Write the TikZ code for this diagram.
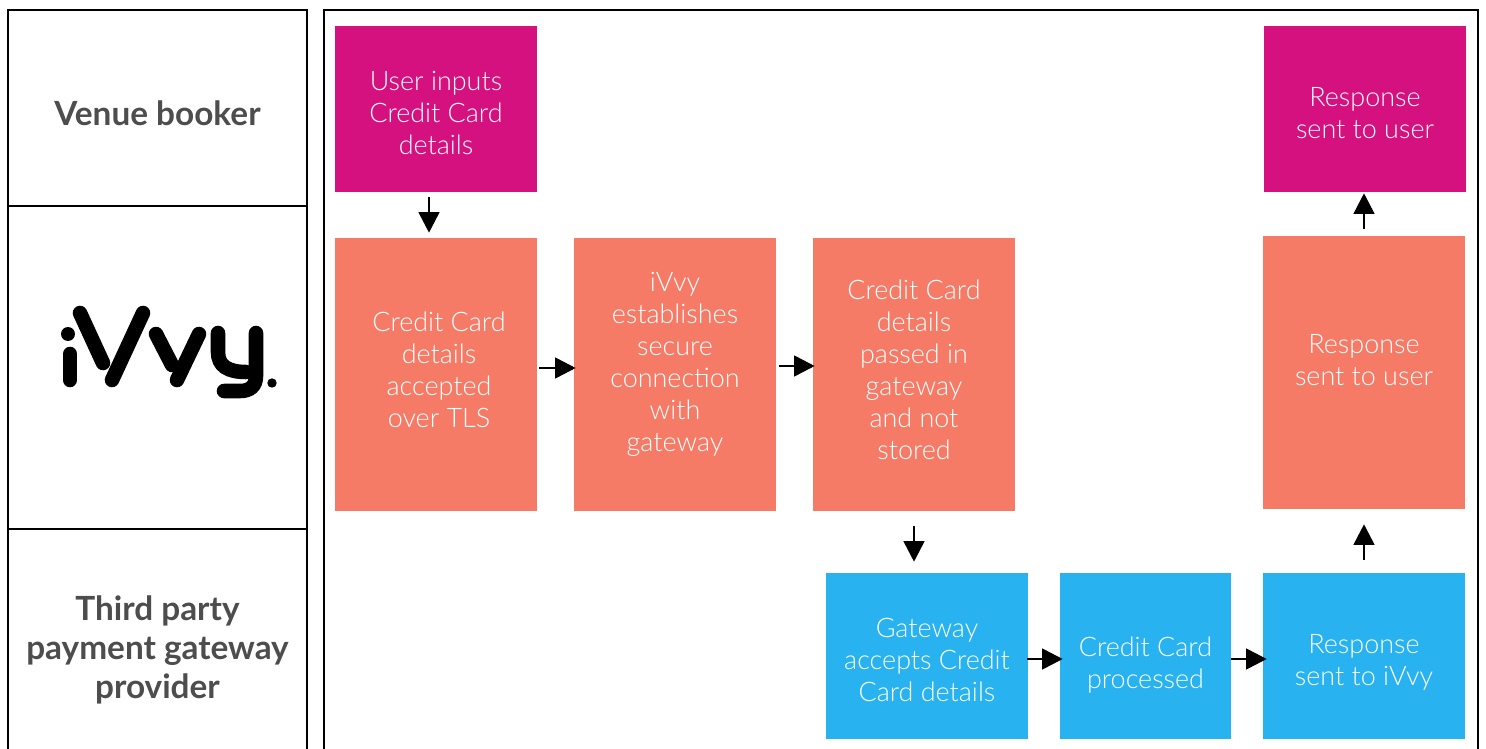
\documentclass[tikz,border=0pt]{standalone}
\usepackage{fontspec}
\setmainfont{Lato}[UprightFont={* Light},BoldFont={* Bold}]
\usetikzlibrary{arrows.meta}
\definecolor{bookercol}{HTML}{D5117F}
\definecolor{ivvycol}{HTML}{F57B67}
\definecolor{gatewaycol}{HTML}{28B2F0}
\definecolor{lanetext}{HTML}{4D4D4D}
\tikzset{
  lanebox/.style={draw=black,line width=2.1pt,minimum width=224.25pt,inner sep=0pt},
  lanetitle/.style={align=center,inner sep=0pt,text=lanetext,font=\fontsize{25}{29}\selectfont\bfseries},
  flowbox/.style={minimum width=151.5pt,inner sep=0pt},
  flowtext/.style={align=center,inner sep=0pt,text=white,font=\fontsize{20.2}{24}\selectfont},
  shortbox/.style={flowbox,minimum height=124.5pt},
  tallbox/.style={flowbox,minimum height=204.75pt},
  flowarrow/.style={line width=2pt,-{Triangle[length=15.5pt,width=15.5pt]}},
  logostroke/.style={line width=10.9pt,line cap=round}
}
\begin{document}
\begin{tikzpicture}[x=0.75pt,y=-0.75pt]
\clip (0,0) rectangle (1486,749);
\fill[white] (0,0) rectangle (1486,749);

% Lanes
\node[lanebox,minimum height=147pt,label={[lanetitle,shift={(0,5)}]center:Venue booker}] (booker) at (157.5,108) {};
\node[lanebox,minimum height=242.25pt] (ivvy) at (157.5,367.5) {};
\node[lanebox,minimum height=178.5pt,label={[lanetitle,shift={(0,2)}]center:Third party\\payment gateway\\provider}] (provider) at (157.5,648) {};
\draw[line width=2.1pt] (324,10) rectangle (1478,770);

% Logo
\begin{scope}[logostroke]
\fill (68,334) circle (7);
\draw (70,354) -- (70,380);
\draw (80,313) -- (103,363);
\draw (143,313) -- (112,380);
\draw (156,334) -- (172,365);
\draw (199,334) -- (177,380);
\draw (218,333) -- (218,352) .. controls (218,366) and (228,372) .. (246,372);
\draw (256,333) -- (256,376) .. controls (256,386) and (250,391) .. (240,391) -- (224,391);
\fill (272,383) circle (4.7);
\end{scope}

% Venue booker
\node[shortbox,fill=bookercol,label={[flowtext,shift={(0,4)}]center:User inputs\\Credit Card\\details}] (inputs) at (436,109) {};
\node[shortbox,fill=bookercol,label={[flowtext,shift={(0,4)}]center:Response\\sent to user}] (sentuser) at (1365,109) {};

% iVvy
\node[tallbox,fill=ivvycol,label={[flowtext,shift={(3,-5)}]center:Credit Card\\details\\accepted\\over TLS}] (accepted) at (436,374.5) {};
\node[tallbox,fill=ivvycol,label={[flowtext,shift={(0,-10)}]center:iVvy\\establishes\\secure\\connection\\with\\gateway}] (secure) at (675,374.5) {};
\node[tallbox,fill=ivvycol,label={[flowtext,shift={(0,-5)}]center:Credit Card\\details\\passed in\\gateway\\and not\\stored}] (passed) at (914,374.5) {};
\node[tallbox,fill=ivvycol,label={[flowtext,shift={(0,-12)}]center:Response\\sent to user}] (response) at (1364,372.5) {};

% Gateway
\node[shortbox,fill=gatewaycol,label={[flowtext,shift={(0,4)}]center:Gateway\\accepts Credit\\Card details}] (gateway) at (927,656) {};
\node[shortbox,fill=gatewaycol,minimum width=128.25pt,label={[flowtext,shift={(0,9)}]center:Credit Card\\processed}] (processed) at (1145.5,656) {};
\node[shortbox,fill=gatewaycol,label={[flowtext,shift={(0,6)}]center:Response\\sent to iVvy}] (sentivvy) at (1364,656) {};

% Arrows
\draw[flowarrow] ([shift={(-7,5)}]inputs.south) -- ([shift={(-7,-5)}]accepted.north);
\draw[flowarrow] ([shift={(2,-6.5)}]accepted.east) -- ([shift={(2,-6.5)}]secure.west);
\draw[flowarrow] ([shift={(3,-8.5)}]secure.east) -- ([shift={(2,-8.5)}]passed.west);
\draw[flowarrow] ([shift={(0,15)}]passed.south) -- ([shift={(-13,-11)}]gateway.north);
\draw[flowarrow] ([shift={(-1,3)}]gateway.east) -- ([shift={(3,3)}]processed.west);
\draw[flowarrow] ([shift={(0,3)}]processed.east) -- ([shift={(4,3)}]sentivvy.west);
\draw[flowarrow] ([shift={(0,-13)}]sentivvy.north) -- ([shift={(0,15)}]response.south);
\draw[flowarrow] ([shift={(0,-7)}]response.north) -- ([shift={(-1,1)}]sentuser.south);
\end{tikzpicture}
\end{document}
